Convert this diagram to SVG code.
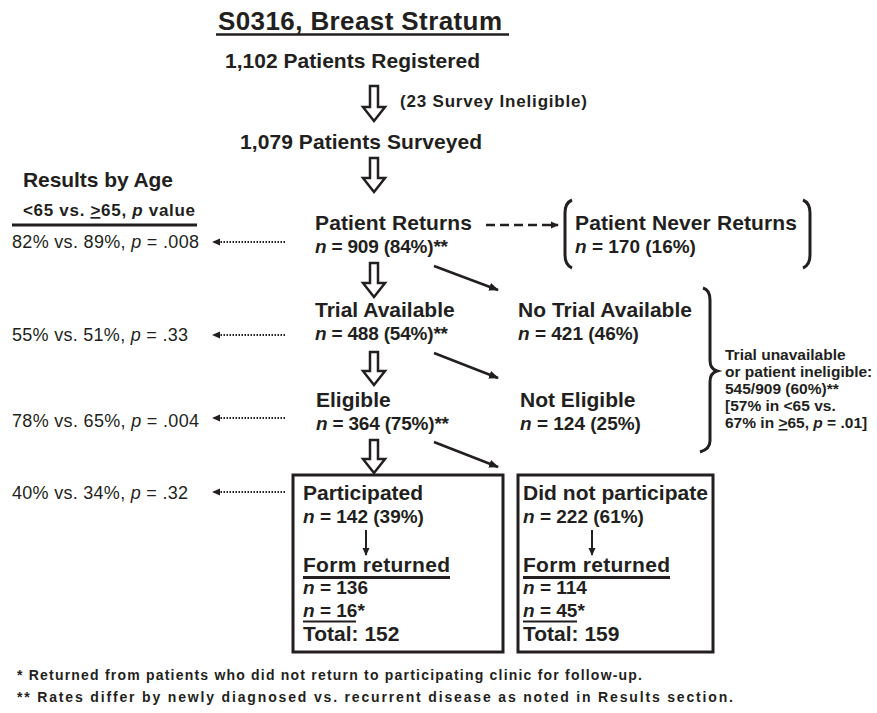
<svg xmlns="http://www.w3.org/2000/svg" width="877" height="713" viewBox="0 0 877 713">
<style>
text{font-family:"Liberation Sans",Arial,sans-serif;fill:#231f20}
.b{font-weight:bold}
.h{font-size:21px;font-weight:bold}
.n{font-size:19px;font-weight:bold}
.i{font-style:italic}
.l{font-size:18px}
.f{font-size:14px;font-weight:bold}
.br{font-size:15.5px;font-weight:bold}
.hol{fill:#fff;stroke:#231f20;stroke-width:2.5;stroke-linejoin:miter}
.ln{stroke:#231f20;stroke-width:2.5;fill:none}
.dot{stroke:#231f20;stroke-width:2;stroke-dasharray:1.5 1.5;fill:none}
.box{fill:none;stroke:#231f20;stroke-width:3}
.brk{fill:none;stroke:#231f20;stroke-width:3}
</style>
<defs>
<marker id="ah" markerWidth="10" markerHeight="10" refX="9" refY="5" orient="auto" markerUnits="userSpaceOnUse"><path d="M0,1 L10,5 L0,9 Z" fill="#231f20"/></marker>
<marker id="ahs" markerWidth="8" markerHeight="8" refX="7" refY="4" orient="auto" markerUnits="userSpaceOnUse"><path d="M0,0.5 L8,4 L0,7.5 Z" fill="#231f20"/></marker>
</defs>

<g id="title">
<text x="218" y="30" class="b" font-size="26" textLength="284" lengthAdjust="spacing">S0316, Breast Stratum</text>
<line x1="216" y1="34.5" x2="509" y2="34.5" stroke="#231f20" stroke-width="2.5"/>
</g>

<g id="registered"><text x="225" y="68" class="h" textLength="255" lengthAdjust="spacing">1,102 Patients Registered</text></g>
<g id="ineligible"><text x="400" y="107" class="b" font-size="17" textLength="187" lengthAdjust="spacing">(23 Survey Ineligible)</text></g>
<g id="surveyed"><text x="240" y="149" class="h" textLength="242" lengthAdjust="spacing">1,079 Patients Surveyed</text></g>

<g id="results-header">
<text x="23" y="187" class="h" textLength="150" lengthAdjust="spacing">Results by Age</text>
<text x="23" y="216" class="b" font-size="17" textLength="172" lengthAdjust="spacing">&lt;65 vs. <tspan text-decoration="underline">&gt;</tspan>65, <tspan class="i">p</tspan> value</text>
<line x1="12" y1="225" x2="197" y2="225" stroke="#231f20" stroke-width="3"/>
</g>
<g id="age-returns"><text x="12" y="248" class="l" textLength="187" lengthAdjust="spacing">82% vs. 89%, <tspan class="i">p</tspan> = .008</text></g>
<g id="age-trial"><text x="12" y="341" class="l" textLength="176" lengthAdjust="spacing">55% vs. 51%, <tspan class="i">p</tspan> = .33</text></g>
<g id="age-eligible"><text x="12" y="427" class="l" textLength="187" lengthAdjust="spacing">78% vs. 65%, <tspan class="i">p</tspan> = .004</text></g>
<g id="age-participated"><text x="12" y="499" class="l" textLength="176" lengthAdjust="spacing">40% vs. 34%, <tspan class="i">p</tspan> = .32</text></g>

<g id="returns">
<text x="315" y="230" class="h" textLength="157" lengthAdjust="spacing">Patient Returns</text>
<text x="315" y="253" class="n" textLength="133" lengthAdjust="spacing"><tspan class="i">n</tspan> = 909 (84%)**</text>
</g>
<g id="never-returns">
<path class="brk" d="M572,200 Q565,203 565,213 L565,255 Q565,265 572,268"/>
<path class="brk" d="M803,200 Q810,203 810,213 L810,255 Q810,265 803,268"/>
<text x="575" y="230" class="h" textLength="222" lengthAdjust="spacing">Patient Never Returns</text>
<text x="575" y="253" class="n"><tspan class="i">n</tspan> = 170 (16%)</text>
</g>
<g id="trial">
<text x="315" y="317" class="h">Trial Available</text>
<text x="315" y="340" class="n" textLength="133" lengthAdjust="spacing"><tspan class="i">n</tspan> = 488 (54%)**</text>
</g>
<g id="no-trial">
<text x="518" y="317" class="h" textLength="174" lengthAdjust="spacing">No Trial Available</text>
<text x="518" y="340" class="n"><tspan class="i">n</tspan> = 421 (46%)</text>
</g>
<g id="eligible">
<text x="316" y="407" class="h">Eligible</text>
<text x="316" y="430" class="n" textLength="133" lengthAdjust="spacing"><tspan class="i">n</tspan> = 364 (75%)**</text>
</g>
<g id="not-eligible">
<text x="520" y="407" class="h">Not Eligible</text>
<text x="520" y="430" class="n"><tspan class="i">n</tspan> = 124 (25%)</text>
</g>

<g id="brace-note">
<path class="brk" d="M703,288 Q710,290 710,300 L710,360 Q710,369 717,371 Q710,373 710,382 L710,441 Q710,449 700,452"/>
<text class="br" x="725" y="360">Trial unavailable</text>
<text class="br" x="725" y="377">or patient ineligible:</text>
<text class="br" x="725" y="394">545/909 (60%)**</text>
<text class="br" x="725" y="411">[57% in &lt;65 vs.</text>
<text class="br" x="725" y="428">67% in <tspan text-decoration="underline">&gt;</tspan>65, <tspan class="i">p</tspan> = .01]</text>
</g>

<g id="participated">
<rect class="box" x="293" y="475" width="210" height="177"/>
<text x="303" y="500" class="h" textLength="120" lengthAdjust="spacing">Participated</text>
<text x="303" y="523" class="n"><tspan class="i">n</tspan> = 142 (39%)</text>
<line x1="366" y1="530" x2="366" y2="555" stroke="#231f20" stroke-width="2" marker-end="url(#ahs)"/>
<text x="303" y="572" class="h" textLength="147" lengthAdjust="spacing">Form returned</text>
<line x1="303" y1="577.5" x2="450" y2="577.5" stroke="#231f20" stroke-width="3"/>
<text x="303" y="594" class="n"><tspan class="i">n</tspan> = 136</text>
<text x="303" y="617" class="n"><tspan class="i">n</tspan> = 16*</text>
<line x1="303" y1="621.5" x2="356" y2="621.5" stroke="#231f20" stroke-width="2"/>
<text x="303" y="641" class="h">Total: 152</text>
</g>
<g id="did-not-participate">
<rect class="box" x="518" y="475" width="195" height="177"/>
<text x="523" y="500" class="h" textLength="185" lengthAdjust="spacing">Did not participate</text>
<text x="523" y="523" class="n"><tspan class="i">n</tspan> = 222 (61%)</text>
<line x1="592" y1="530" x2="592" y2="555" stroke="#231f20" stroke-width="2" marker-end="url(#ahs)"/>
<text x="523" y="572" class="h" textLength="147" lengthAdjust="spacing">Form returned</text>
<line x1="523" y1="577.5" x2="670" y2="577.5" stroke="#231f20" stroke-width="3"/>
<text x="523" y="594" class="n"><tspan class="i">n</tspan> = 114</text>
<text x="523" y="617" class="n"><tspan class="i">n</tspan> = 45*</text>
<line x1="523" y1="621.5" x2="577" y2="621.5" stroke="#231f20" stroke-width="2"/>
<text x="523" y="641" class="h">Total: 159</text>
</g>

<g id="footnotes">
<text x="17" y="680" class="f" textLength="625" lengthAdjust="spacing">* Returned from patients who did not return to participating clinic for follow-up.</text>
<text x="17" y="702" class="f" textLength="716" lengthAdjust="spacing">** Rates differ by newly diagnosed vs. recurrent disease as noted in Results section.</text>
</g>

<g id="connectors">
<path class="hol" d="M370,86 L378,86 L378,107 L385,107 L374,121 L363,107 L370,107 Z"/>
<path class="hol" d="M370,158 L378,158 L378,178 L385,178 L374,192 L363,178 L370,178 Z"/>
<path class="hol" d="M370,263 L378,263 L378,283 L385,283 L374,297 L363,283 L370,283 Z"/>
<path class="hol" d="M370,352 L378,352 L378,371 L385,371 L374,385 L363,371 L370,371 Z"/>
<path class="hol" d="M370,440 L378,440 L378,459 L385,459 L374,473 L363,459 L370,459 Z"/>
<line class="ln" x1="434" y1="266" x2="498" y2="290" marker-end="url(#ah)"/>
<line class="ln" x1="434" y1="353" x2="498" y2="378" marker-end="url(#ah)"/>
<line class="ln" x1="434" y1="442" x2="498" y2="467" marker-end="url(#ah)"/>
<line x1="486" y1="225" x2="558" y2="225" stroke="#231f20" stroke-width="2.5" stroke-dasharray="9 5" marker-end="url(#ahs)"/>
<line class="dot" x1="285" y1="242" x2="213" y2="242" marker-end="url(#ahs)"/>
<line class="dot" x1="285" y1="335" x2="213" y2="335" marker-end="url(#ahs)"/>
<line class="dot" x1="285" y1="418" x2="213" y2="418" marker-end="url(#ahs)"/>
<line class="dot" x1="285" y1="492" x2="213" y2="492" marker-end="url(#ahs)"/>
</g>
</svg>
